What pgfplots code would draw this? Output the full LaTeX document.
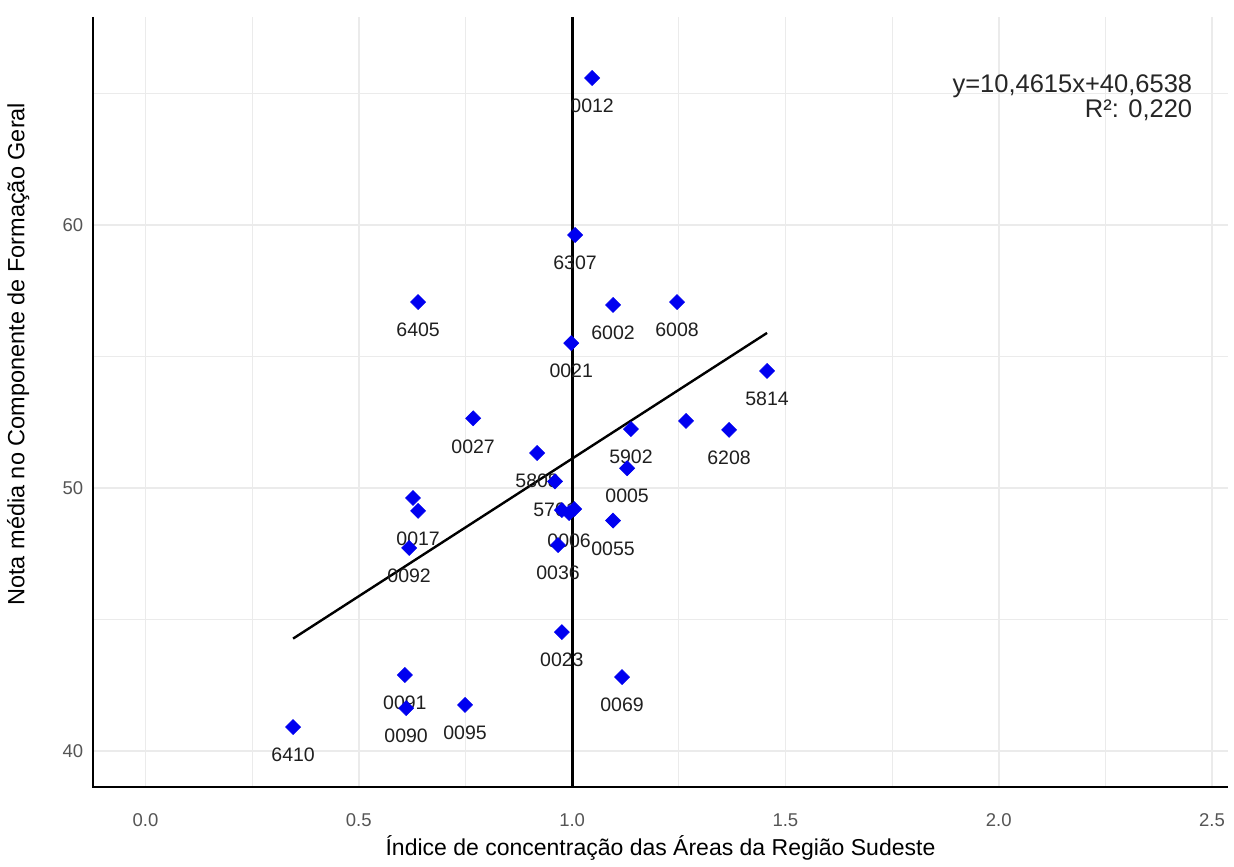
\documentclass[border=0pt]{standalone}
\usepackage{fontspec}
\setmainfont{Liberation Sans}
\usepackage{pgfplots}
\pgfplotsset{compat=1.18}
\usepackage{pgfplotstable}
\definecolor{gridc}{HTML}{EBEBEB}
\definecolor{tickc}{HTML}{555555}
\definecolor{ptblue}{HTML}{0000F0}

\pgfplotstableread{
x y
1.047 65.59
1.007 59.62
0.639 57.07
1.096 56.96
1.246 57.07
0.998 55.51
1.457 54.45
0.768 52.65
1.138 52.24
1.129 50.75
1.267 52.55
1.368 52.21
0.918 51.33
0.960 50.25
0.976 49.16
0.993 49.05
1.005 49.20
0.967 47.83
1.096 48.76
0.627 49.62
0.639 49.13
0.618 47.72
0.976 44.52
0.608 42.89
0.611 41.63
0.749 41.75
1.117 42.81
0.346 40.91
}\allpoints

\pgfplotstableread{
x y lab
1.047 65.59 0012
1.007 59.62 6307
0.639 57.07 6405
1.096 56.96 6002
1.246 57.07 6008
0.998 55.51 0021
1.457 54.45 5814
0.768 52.65 0027
1.138 52.24 5902
1.129 50.75 0005
1.368 52.21 6208
0.918 51.33 5808
0.960 50.25 5701
0.993 49.05 0006
0.967 47.83 0036
1.096 48.76 0055
0.639 49.13 0017
0.618 47.72 0092
0.976 44.52 0023
0.608 42.89 0091
0.611 41.63 0090
0.749 41.75 0095
1.117 42.81 0069
0.346 40.91 6410
}\labelpts

\begin{document}
\begin{tikzpicture}
\fill[white] (0,0) rectangle (1234pt,867pt);
\useasboundingbox (0,0) rectangle (1234pt,867pt);
\begin{axis}[
  at={(93pt,80pt)}, anchor=south west,
  scale only axis, width=1135pt, height=770pt,
  xmin=-0.1231, xmax=2.5375, ymin=38.63, ymax=67.91,
  axis line style={draw=none},
  major tick length=0pt, minor tick length=0pt,
  xtick={0,0.5,1,1.5,2,2.5},
  xticklabels={0.0,0.5,1.0,1.5,2.0,2.5},
  minor xtick={0.25,0.75,1.25,1.75,2.25},
  ytick={40,50,60}, yticklabels={40,50,60},
  minor ytick={45,55,65},
  grid=both,
  major grid style={gridc, line width=1.6pt},
  minor grid style={gridc, line width=0.9pt},
  xticklabel style={anchor=center, yshift=-33pt, font=\fontsize{18.5}{21}\selectfont, text=tickc},
  yticklabel style={anchor=center, xshift=-20pt, font=\fontsize{18.5}{21}\selectfont, text=tickc},
  xlabel={Índice de concentração das Áreas da Região Sudeste},
  ylabel={Nota média no Componente de Formação Geral},
  xlabel style={at={(axis description cs:0.5,-0.0792)}, anchor=center, font=\fontsize{23}{26}\selectfont},
  ylabel style={at={(axis description cs:-0.066,0.562)}, anchor=center, font=\fontsize{23.5}{26}\selectfont},
  clip=false,
]
\addplot[only marks, mark=*, mark size=0pt, mark options={draw=none, fill=none},
  nodes near coords, point meta=explicit symbolic,
  nodes near coords style={anchor=center, yshift=-28pt, font=\fontsize{19.5}{22}\selectfont, text=black!88}]
  table[x=x, y=y, meta=lab] {\labelpts};
\addplot[only marks, mark=square*, mark size=5.3pt, mark options={rotate=45, fill=ptblue, draw=ptblue, line width=0.6pt}]
  table[x=x, y=y] {\allpoints};
\addplot[black, line width=2.4pt, no marks] coordinates {(0.346,44.2735) (1.457,55.8962)};
\addplot[black, line width=3pt, no marks] coordinates {(1,38.63) (1,67.91)};
\draw[black, line width=2pt] (rel axis cs:0,1) -- (rel axis cs:0,0) -- (rel axis cs:1,0);
\node[anchor=base east, inner sep=0pt, font=\fontsize{25.5}{29}\selectfont, text=black!85] at (axis cs:2.454,65.057) {y=10,4615x+40,6538};
\node[anchor=base east, inner sep=0pt, font=\fontsize{25.5}{29}\selectfont, text=black!85] at (axis cs:2.454,64.106) {R²: 0,220};
\end{axis}
\end{tikzpicture}
\end{document}
